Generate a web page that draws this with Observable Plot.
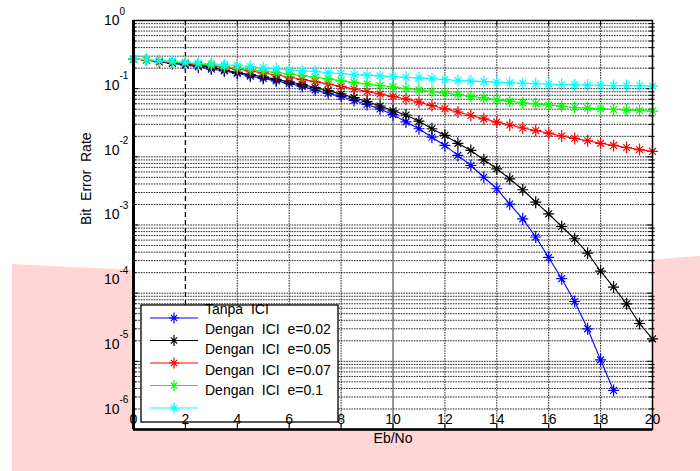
<!DOCTYPE html>
<html><head><meta charset="utf-8">
<script src="https://cdn.jsdelivr.net/npm/d3@7"></script>
<script src="https://cdn.jsdelivr.net/npm/@observablehq/plot@0.6"></script>
<style>
body{margin:0;background:#fff;}
#wrap{position:relative;width:700px;height:471px;overflow:hidden;}
#bg{position:absolute;left:0;top:0;}
#chart{position:absolute;left:0;top:0;}
#chart text{white-space:pre;}
</style></head><body>
<div id="wrap">
<svg id="bg" width="700" height="471"><path d="M12,264 Q356,284 700,256 L700,471 L12,471 Z" fill="#ffd5d5"/></svg>
<div id="chart"></div>
</div>
<script>
const ebno = [0,0.5,1,1.5,2,2.5,3,3.5,4,4.5,5,5.5,6,6.5,7,7.5,8,8.5,9,9.5,10,10.5,11,11.5,12,12.5,13,13.5,14,14.5,15,15.5,16,16.5,17,17.5,18,18.5,19,19.5,20];

const berTanpaICI = [0.272,0.263,0.246,0.234,0.222,0.209,0.194,0.182,0.167,0.153,0.141,0.130,0.119,0.108,0.0955,0.0849,0.0767,0.0670,0.0586,0.0503,0.0416,0.0325,0.0258,0.0194,0.0147,0.0105,0.00746,0.00502,0.00340,0.00203,0.00123,0.000667,0.000334,0.000163,7.55e-5,3.00e-5,1.05e-5,3.74e-6];
const berE002 = [0.272,0.263,0.2505,0.2395,0.230,0.219,0.205,0.188,0.173,0.161,0.149,0.137,0.126,0.115,0.104,0.0934,0.0835,0.0738,0.0648,0.0557,0.0473,0.0411,0.0333,0.0258,0.0206,0.0158,0.0124,0.00905,0.00668,0.00476,0.00329,0.00216,0.00146,0.000951,0.000628,0.000386,0.000210,0.000123,6.98e-5,3.59e-5,2.14e-5];
const berE005 = [0.272,0.263,0.2505,0.242,0.234,0.224,0.215,0.205,0.194,0.182,0.170,0.159,0.148,0.136,0.127,0.117,0.108,0.0989,0.0909,0.0835,0.0767,0.0705,0.0633,0.0566,0.0507,0.0455,0.0404,0.0361,0.0324,0.0293,0.0265,0.0243,0.0222,0.0202,0.0186,0.0172,0.0158,0.0147,0.0137,0.0128,0.0120];
const berE007 = [0.274,0.265,0.255,0.246,0.238,0.230,0.222,0.211,0.201,0.191,0.180,0.173,0.165,0.156,0.147,0.139,0.130,0.123,0.117,0.111,0.106,0.1005,0.0962,0.0909,0.0864,0.0821,0.0767,0.0734,0.0687,0.0655,0.0620,0.0600,0.0576,0.0553,0.0529,0.0517,0.0507,0.0495,0.0486,0.0478,0.0467];
const berE01 = [0.274,0.268,0.259,0.253,0.2445,0.236,0.232,0.224,0.219,0.211,0.202,0.196,0.189,0.183,0.179,0.171,0.167,0.161,0.158,0.154,0.151,0.147,0.144,0.140,0.136,0.132,0.129,0.127,0.124,0.122,0.120,0.118,0.117,0.115,0.114,0.113,0.112,0.111,0.111,0.1105,0.109];

const seriesValues = [berTanpaICI, berE002, berE005, berE007, berE01];
const seriesColors = ["#0000ff", "#000000", "#ff0000", "#00ff00", "#00ffff"];
const legendLabels = ["Tanpa  ICI", "Dengan  ICI  e=0.02", "Dengan  ICI  e=0.05", "Dengan  ICI  e=0.07", "Dengan  ICI  e=0.1"];

const xTicks = [0,2,4,6,8,10,12,14,16,18,20];
const yExponents = [0,1,2,3,4,5,6];
const xLabel = "Eb/No";
const yLabel = "Bit  Error  Rate";

const yMajor = yExponents.map(k => 10 ** -k);
const yMinor = [];
for (let k = -6; k < 0; k++) for (let m = 2; m <= 9; m++) yMinor.push(m * 10 ** k);
const yGrid = yMajor.concat(yMinor);

const series = seriesValues.map((vals, i) => vals.map((v, j) => ({x: ebno[j], y: v, s: i})));

const star = {
  draw(ctx, size) {
    const r = Math.sqrt(size / Math.PI);
    const d = r * 0.62;
    ctx.moveTo(-r, 0); ctx.lineTo(r, 0);
    ctx.moveTo(0, -r * 1.1); ctx.lineTo(0, r * 1.1);
    ctx.moveTo(-d, -d); ctx.lineTo(d, d);
    ctx.moveTo(-d, d); ctx.lineTo(d, -d);
  }
};

function legendMark() {
  return () => {
    const g = d3.create("svg:g");
    g.append("rect").attr("x", 141).attr("y", 305).attr("width", 197).attr("height", 117)
      .attr("fill", "white").attr("stroke", "black").attr("stroke-width", 1.3);
    seriesColors.forEach((c, i) => {
      const ly = 318 + i * 22.5;
      g.append("line").attr("x1", 150).attr("x2", 198).attr("y1", ly).attr("y2", ly)
        .attr("stroke", c).attr("stroke-width", 1.2);
      g.append("path").attr("transform", `translate(174,${ly})`)
        .attr("d", d3.symbol(star, Math.PI * 25)())
        .attr("stroke", c).attr("fill", "none").attr("stroke-width", 1.2);
    });
    legendLabels.forEach((t, i) => {
      g.append("text").attr("x", 205).attr("y", 309 + i * 20.2).attr("dy", "0.35em")
        .attr("text-anchor", "start")
        .attr("font-size", 14).attr("fill", "black").text(t);
    });
    return g.node();
  };
}

const gridStyle = {stroke: "#000", strokeOpacity: 0.85, strokeDasharray: "1.6,1"};
const marks = [
  Plot.frame({fill: "white"}),
  Plot.gridY(yGrid, gridStyle),
  Plot.gridX(xTicks.filter(d => d !== 2 && d !== 10), gridStyle),
  Plot.ruleX([2], {stroke: "#000", strokeWidth: 1.3, strokeDasharray: "5,3"}),
  Plot.ruleX([10], {stroke: "#555", strokeWidth: 1.2}),
  // inward ticks
  Plot.ruleX(xTicks, {x: d => d, y1: 1e-6, y2: 10 ** -5.92, stroke: "#000"}),
  Plot.ruleX(xTicks, {x: d => d, y1: 1, y2: 10 ** -0.08, stroke: "#000"}),
  Plot.ruleY(yMajor, {y: d => d, x1: 0, x2: 0.2, stroke: "#000"}),
  Plot.ruleY(yMajor, {y: d => d, x1: 19.8, x2: 20, stroke: "#000"}),
  Plot.ruleY(yMinor, {y: d => d, x1: 0, x2: 0.12, stroke: "#000"}),
  Plot.ruleY(yMinor, {y: d => d, x1: 19.88, x2: 20.1, stroke: "#000"}),
];
series.forEach((data, i) => {
  marks.push(Plot.line(data, {x: "x", y: "y", stroke: seriesColors[i], strokeWidth: 1.1}));
  marks.push(Plot.dot(data, {x: "x", y: "y", symbol: star, r: 5.5, stroke: seriesColors[i], fill: "none", strokeWidth: 1.2}));
});
marks.push(
  Plot.frame({stroke: "#000", strokeWidth: 1.5}),
  Plot.ruleX([0], {stroke: "#000", strokeWidth: 3}),
  Plot.ruleY([1e-6], {stroke: "#000", strokeWidth: 2.5}),
  legendMark(),
  Plot.text(xTicks, {x: d => d, frameAnchor: "bottom", dy: -10, text: d => String(d), fontSize: 14, fill: "#000", lineAnchor: "middle"}),
  Plot.text(yExponents, {x: 0, y: k => 10 ** (-k * 0.95), text: () => "10", textAnchor: "end", dx: -14, fontSize: 14, fill: "#000", lineAnchor: "middle"}),
  Plot.text(yExponents, {x: 0, y: k => 10 ** (-k * 0.95), text: k => k === 0 ? "0" : "-" + k, textAnchor: "start", dx: -14, dy: -9, fontSize: 10, fill: "#000", lineAnchor: "middle"}),
  Plot.text([xLabel], {frameAnchor: "bottom", dy: 9, text: d => d, fontSize: 14, fill: "#000", lineAnchor: "middle"}),
  Plot.text([yLabel], {frameAnchor: "left", dx: -47, rotate: -90, text: d => d, fontSize: 14, fill: "#000", lineAnchor: "middle"})
);

const chart = Plot.plot({
  width: 700, height: 471,
  marginLeft: 133, marginRight: 48, marginTop: 20, marginBottom: 42,
  style: {background: "transparent", fontFamily: "'Liberation Sans', Arial, sans-serif", fontSize: "14px", overflow: "visible"},
  x: {domain: [0, 20], axis: null},
  y: {type: "log", domain: [1e-6, 1], axis: null},
  marks
});
document.getElementById("chart").appendChild(chart);
</script>
</body></html>
